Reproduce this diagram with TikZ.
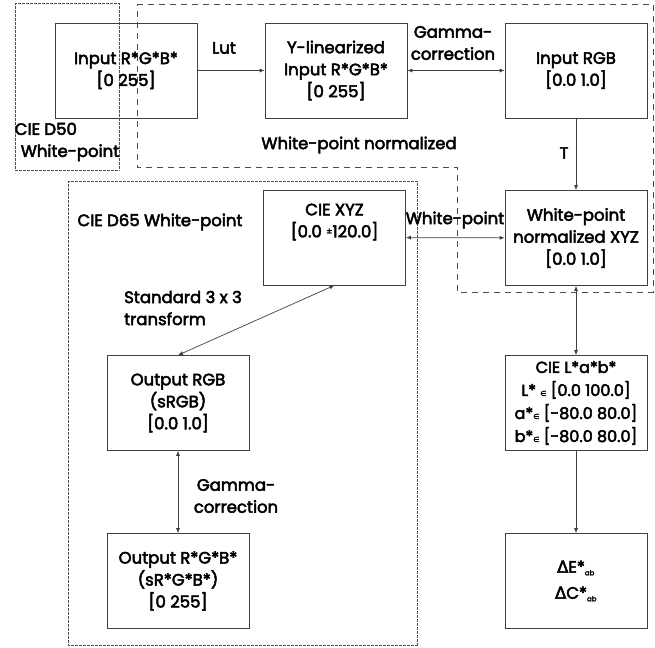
\documentclass[tikz,border=0pt]{standalone}
\usepackage{fontspec}
\setmainfont{Poppins}[FakeBold=3]
\newfontfamily\symfont{DejaVu Sans}[FakeBold=3]
\usetikzlibrary{arrows.meta}
\tikzset{
    box/.style={draw=black!75, line width=0.7pt, minimum width=142pt, minimum height=95pt, align=center, inner sep=2pt},
    lbl/.style={align=center, inner sep=0pt},
    conn/.style={draw=black!75, line width=0.7pt, -{Latex[length=5pt,width=4pt]}},
    dconn/.style={draw=black!75, line width=0.7pt, {Latex[length=5pt,width=4pt]}-{Latex[length=5pt,width=4pt]}},
    group/.style={draw=black!70, line width=0.6pt, dash pattern=on 2pt off 0.7pt on 0.6pt off 0.7pt},
    region/.style={draw=black!70, line width=0.6pt, dash pattern=on 6pt off 5pt}
}
\begin{document}
\begin{tikzpicture}[x=1pt, y=-1pt, font=\fontsize{16.5}{22}\selectfont]
    \useasboundingbox (0,0) rectangle (655,647);

    \draw [group] (15,3) rectangle (119,170);
    \draw [region] (137,4) -- (653,4) -- (653,292) -- (457,292) -- (457,167) -- (137,167) -- cycle;
    \draw [group] (68,181) rectangle (417,645);

    \node [box] (in) at (126,70.5) {Input R*G*B*\\{[0 255]}};
    \node [box] (ylin) at (336,70.5) {Y-linearized\\Input R*G*B*\\{[0 255]}};
    \node [box] (rgbin) at (576,70.5) {Input RGB\\{[0.0 1.0]}};
    \node [box] (wpxyz) at (576,238) {White-point\\normalized XYZ\\{[0.0 1.0]}};
    \node [box] (xyz) at (334.5,237.5) {CIE XYZ\\{[0.0 \raisebox{3pt}{\small ±}120.0]}\\[12pt]};
    \node [box] (outrgb) at (178,403) {Output RGB\\(sRGB)\\{[0.0 1.0]}};
    \node [box] (outrgbs) at (178,581) {Output R*G*B*\\(sR*G*B*)\\{[0 255]}};
    \node [box, font=\fontsize{16}{23}\selectfont] (lab) at (576,403) {CIE L*a*b*\\L* {\symfont\scriptsize ∈} [0.0 100.0]\\a*{\symfont\scriptsize ∈} [-80.0 80.0]\\b*{\symfont\scriptsize ∈} [-80.0 80.0]};
    \node [box, font=\fontsize{16.5}{26}\selectfont] (delta) at (576,581) {{\symfont Δ}E*\textsubscript{\scriptsize ab}\\{\symfont Δ}C*\textsubscript{\scriptsize ab}};

    \node [lbl] (lut) at (224,48) {Lut};
    \node [lbl] (gam1) at (453,43) {Gamma-\\correction};
    \node [lbl] (wpn) at (359,145) {White-point normalized};
    \node [lbl] (t) at (564,153) {T};
    \node [lbl, align=left] (d50) at (67,142) {CIE D50\\\hspace{6pt}White-point};
    \node [lbl] (d65) at (160,222) {CIE D65 White-point};
    \node [lbl] (wp) at (455,220) {White-point};
    \node [lbl, align=left, anchor=west] (std) at (124,308) {Standard 3 x 3\\transform};
    \node [lbl] (gam2) at (236,496) {Gamma-\\correction};

    \draw [conn] (in) -- (ylin);
    \draw [dconn] (ylin) -- (rgbin);
    \draw [conn] (rgbin.south) -- (wpxyz.north);
    \draw [dconn] (xyz) -- (wpxyz);
    \draw [dconn] (wpxyz.south) -- (lab.north);
    \draw [conn] (lab.south) -- (delta.north);
    \draw [dconn] (xyz.south) -- (outrgb.north);
    \draw [dconn] (outrgb.south) -- (outrgbs.north);
\end{tikzpicture}
\end{document}
